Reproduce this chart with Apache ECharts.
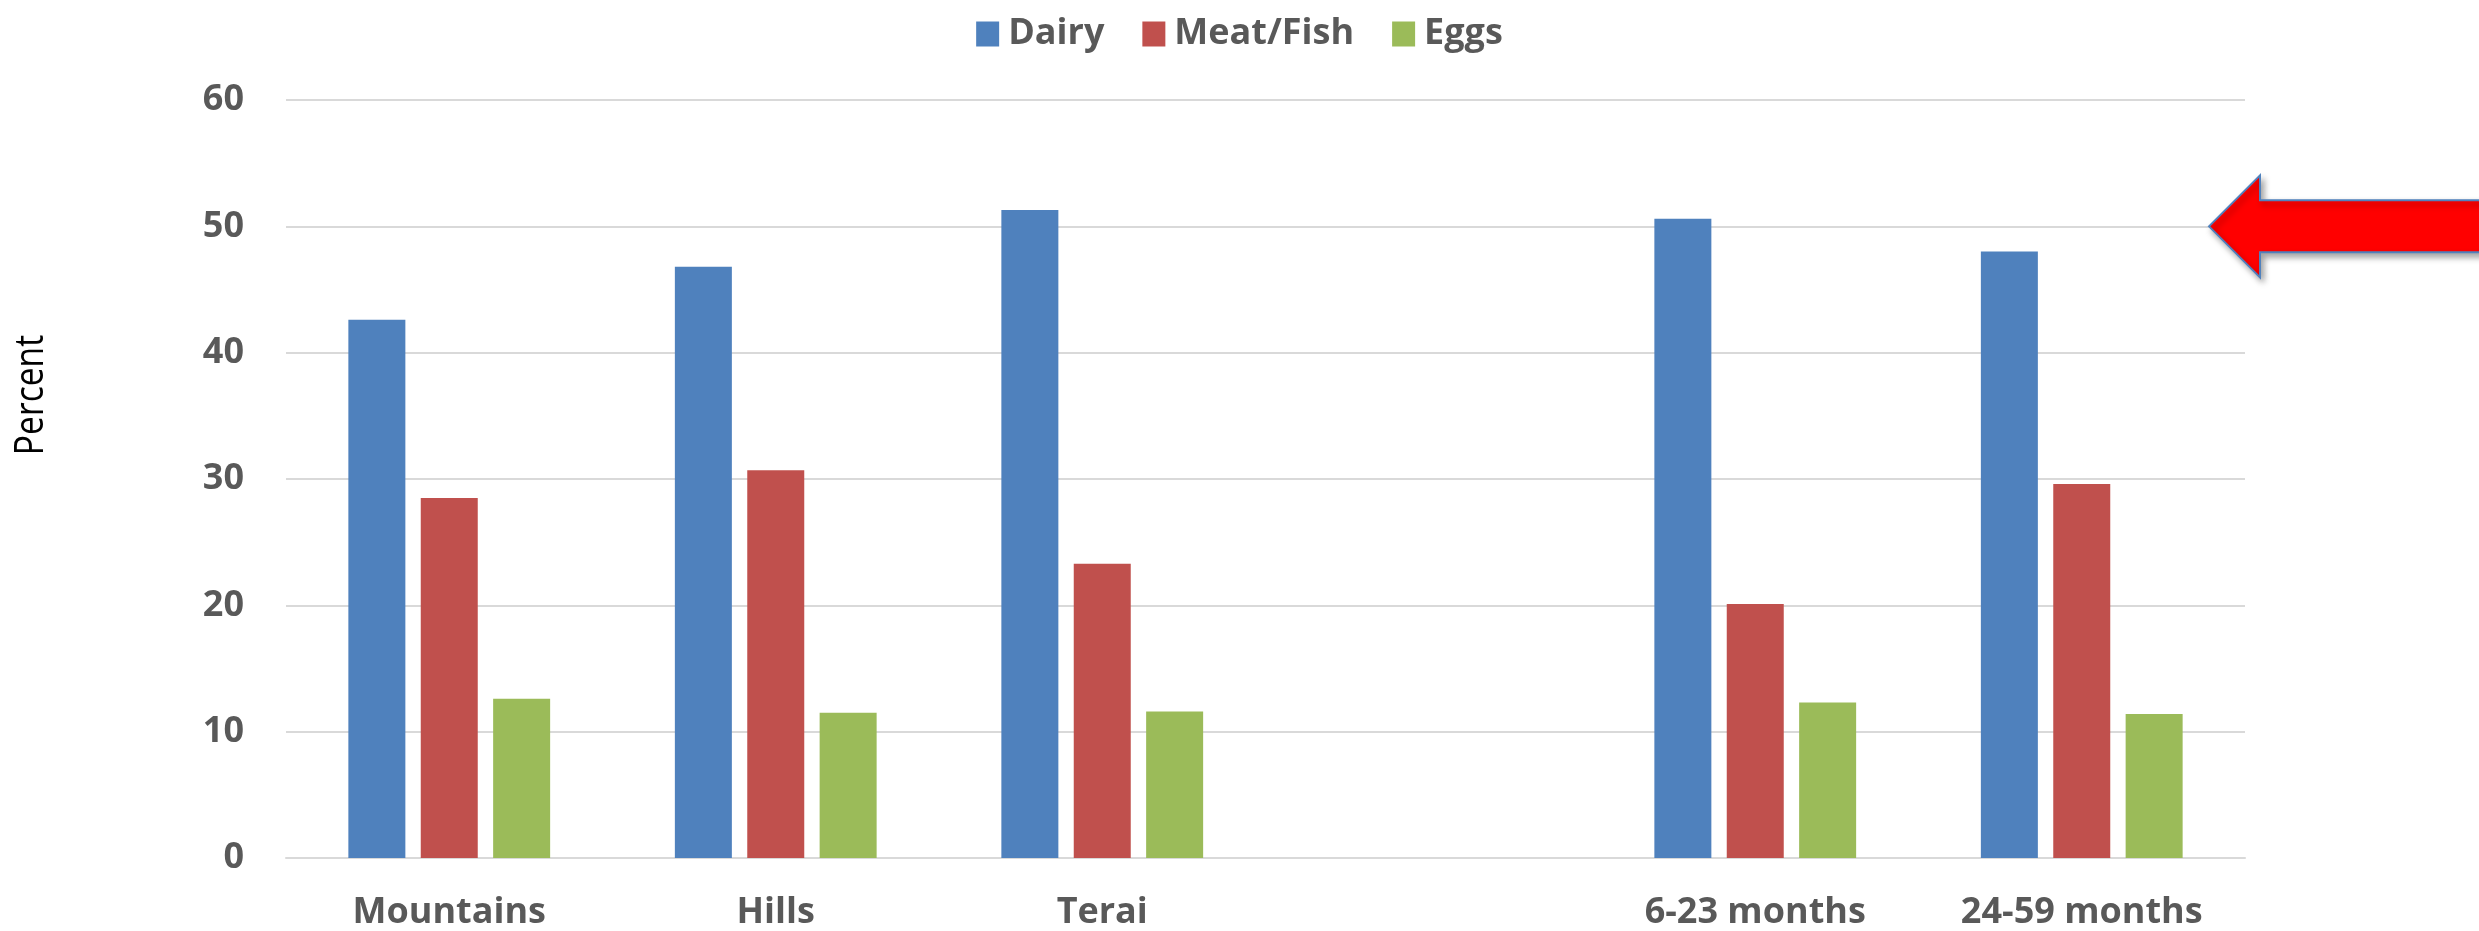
<!DOCTYPE html>
<html>
<head>
<meta charset="utf-8">
<script src="https://cdn.jsdelivr.net/npm/echarts@6/dist/echarts.min.js"></script>
<style>
html,body{margin:0;padding:0;background:#fff;}
#chart{width:2479px;height:931px;}
</style>
</head>
<body>
<div id="chart"></div>
<script>
const categories = ['Mountains', 'Hills', 'Terai', '', '6-23 months', '24-59 months'];
const seriesNames = ['Dairy', 'Meat/Fish', 'Eggs'];
const dairy = [42.6, 46.8, 51.3, null, 50.6, 48.0];
const meatFish = [28.5, 30.7, 23.3, null, 20.1, 29.6];
const eggs = [12.6, 11.5, 11.6, null, 12.3, 11.4];
const yTicks = [0, 10, 20, 30, 40, 50, 60];
const yAxisTitle = 'Percent';
const arrowValue = 50;

const colors = ['#4f81bd', '#c0504d', '#9bbb59'];
const boldFont = "'Open Sans', 'Noto Sans', sans-serif";

const chart = echarts.init(document.getElementById('chart'));
const values = [dairy, meatFish, eggs];

chart.setOption({
  animation: false,
  backgroundColor: '#ffffff',
  color: colors,
  legend: {
    data: seriesNames,
    top: 9,
    left: 'center',
    itemWidth: 23,
    itemHeight: 25,
    itemGap: 38,
    icon: 'rect',
    textStyle: { fontFamily: boldFont, fontWeight: 'bold', fontSize: 36, color: '#595959', lineHeight: 40, padding: [0, 0, 0, 4] }
  },
  grid: { left: 286, right: 234, top: 100, bottom: 73, containLabel: false },
  xAxis: {
    type: 'category',
    data: categories,
    axisLine: { show: true, lineStyle: { color: '#d9d9d9', width: 2 } },
    axisTick: { show: false },
    axisLabel: { margin: 37, fontFamily: boldFont, fontWeight: 'bold', fontSize: 36, color: '#595959', interval: 0 }
  },
  yAxis: {
    type: 'value',
    min: yTicks[0],
    max: yTicks[yTicks.length - 1],
    interval: 10,
    axisLine: { show: false },
    axisTick: { show: false },
    splitLine: { lineStyle: { color: '#d9d9d9', width: 2 } },
    axisLabel: { margin: 42, fontFamily: boldFont, fontWeight: 'bold', fontSize: 36, color: '#595959' }
  },
  series: seriesNames.map((name, i) => ({
    name: name,
    type: 'bar',
    data: values[i],
    barWidth: 57,
    barGap: '27%',
    itemStyle: { color: colors[i] }
  }))
});

// Annotation arrow pointing at the 50 gridline, and the y-axis title
const ty = chart.convertToPixel({ yAxisIndex: 0 }, arrowValue);
const tx = chart.getWidth() - 270;
const W = chart.getWidth();
chart.setOption({
  graphic: [
    {
      type: 'text',
      x: 32,
      y: 395,
      rotation: Math.PI / 2,
      scaleX: 0.84,
      style: {
        text: yAxisTitle,
        fill: '#000000',
        font: "normal 40px 'Open Sans', sans-serif",
        align: 'center',
        verticalAlign: 'middle'
      }
    },
    {
      type: 'polygon',
      z: 100,
      shape: {
        points: [
          [tx, ty], [tx + 51, ty - 51], [tx + 51, ty - 26], [W + 10, ty - 26],
          [W + 10, ty + 26], [tx + 51, ty + 26], [tx + 51, ty + 51]
        ]
      },
      style: {
        fill: '#ff0000',
        stroke: '#4f81bd',
        lineWidth: 2,
        shadowColor: 'rgba(0,0,0,0.35)',
        shadowBlur: 6,
        shadowOffsetX: 3,
        shadowOffsetY: 4
      }
    }
  ]
});
</script>
</body>
</html>
